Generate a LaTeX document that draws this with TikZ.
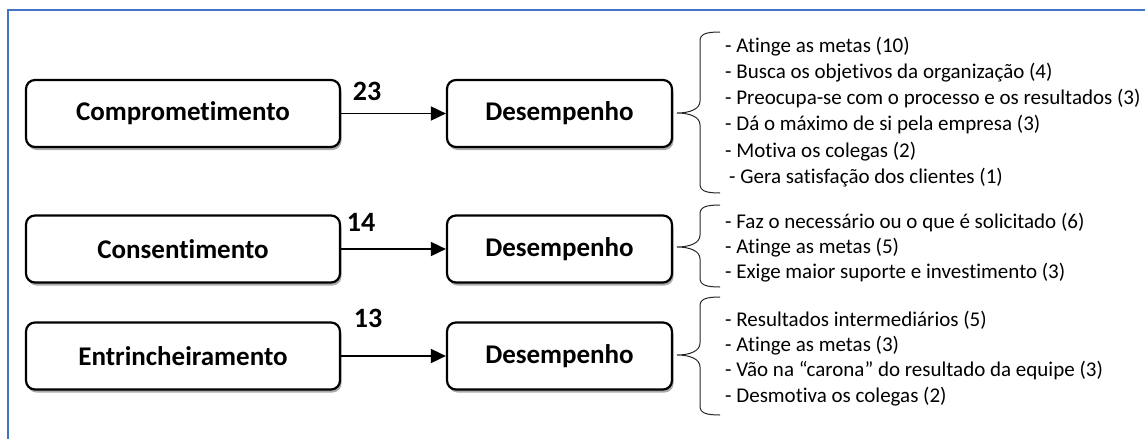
\documentclass[tikz,border=0pt]{standalone}
\usepackage{fontspec}
\setmainfont{Carlito}[Ligatures=NoCommon]
\usetikzlibrary{arrows.meta,shadows}
\definecolor{frameblue}{HTML}{4472C4}
\tikzset{
  mainbox/.style={draw=black, line width=2.2pt, rounded corners=9pt, fill=white,
    minimum height=67pt, inner sep=0pt,
    font=\fontsize{27}{32}\selectfont\bfseries,
    drop shadow={shadow xshift=1.5pt, shadow yshift=-3pt, fill=black!55, opacity=0.6}},
  leftbox/.style={mainbox, minimum width=314pt},
  perfbox/.style={mainbox, minimum width=225pt},
  conn/.style={line width=1.8pt, -{Triangle[length=15pt,width=14pt]}},
  countlbl/.style={font=\fontsize{28}{32}\selectfont\bfseries, inner sep=0pt},
  itemtxt/.style={anchor=base west, inner sep=0pt, font=\fontsize{21}{24}\selectfont},
  bracestyle/.style={line width=1pt, draw=black!85}
}
\newcommand{\mybrace}[3]{%
  \draw[bracestyle] (720,#1) .. controls (706,#1) and (700,#1+2) .. (700,#1+9)
    -- (700,#2-12) .. controls (700,#2-4) and (690,#2) .. (677,#2)
    .. controls (690,#2) and (700,#2+4) .. (700,#2+12)
    -- (700,#3-9) .. controls (700,#3-2) and (706,#3) .. (720,#3);}
\begin{document}
\begin{tikzpicture}[x=1pt,y=-1pt]
\useasboundingbox (0,0) rectangle (1145,439);
\draw[frameblue, line width=1.5pt] (8,439) -- (8,10) -- (1145,10);

% row 1
\node[leftbox] (c1) at (183,113.5) {Comprometimento};
\node[perfbox] (d1) at (559.5,113.5) {Desempenho};
\draw[conn] (c1) -- (d1);
\node[countlbl] (n1) at (367,91) {23};
\mybrace{32}{113}{193}
\node[itemtxt] (t11) at (725,52) {- Atinge as metas (10)};
\node[itemtxt] (t12) at (725,78.3) {- Busca os objetivos da organização (4)};
\node[itemtxt] (t13) at (725,104.6) {- Preocupa-se com o processo e os resultados (3)};
\node[itemtxt] (t14) at (725,130.9) {- Dá o máximo de si pela empresa (3)};
\node[itemtxt] (t15) at (725,157.2) {- Motiva os colegas (2)};
\node[itemtxt] (t16) at (729,183.5) {- Gera satisfação dos clientes (1)};

% row 2
\node[leftbox] (c2) at (183,249) {Consentimento};
\node[perfbox] (d2) at (559.5,249) {Desempenho};
\draw[conn] (c2) -- (d2);
\node[countlbl] (n2) at (361,222) {14};
\mybrace{205}{247}{287}
\node[itemtxt] (t21) at (725,228) {- Faz o necessário ou o que é solicitado (6)};
\node[itemtxt] (t22) at (725,253) {- Atinge as metas (5)};
\node[itemtxt] (t23) at (725,278) {- Exige maior suporte e investimento (3)};

% row 3
\node[leftbox] (c3) at (183,356) {Entrincheiramento};
\node[perfbox] (d3) at (559.5,356) {Desempenho};
\draw[conn] (c3) -- (d3);
\node[countlbl] (n3) at (368,318) {13};
\mybrace{297}{355}{415}
\node[itemtxt] (t31) at (725,326) {- Resultados intermediários (5)};
\node[itemtxt] (t32) at (725,351) {- Atinge as metas (3)};
\node[itemtxt] (t33) at (725,376) {- Vão na “carona” do resultado da equipe (3)};
\node[itemtxt] (t34) at (725,402) {- Desmotiva os colegas (2)};
\end{tikzpicture}
\end{document}
